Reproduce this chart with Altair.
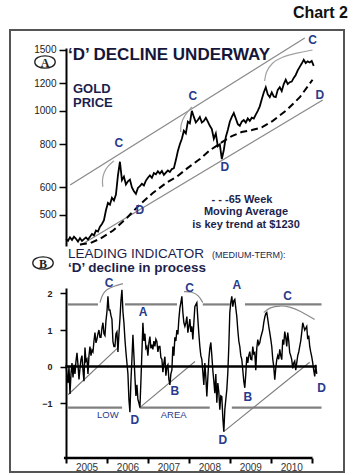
import altair as alt
import pandas as pd

FONT = "Liberation Sans"
SERIF = "Liberation Serif"
NAVY = "#283a8a"
INK = "#1c1f4d"

# ---------------- data ----------------
year_ticks = [2005, 2006, 2007, 2008, 2009, 2010, 2011]

# Gold price, one reading every 2/41 of a year from the start of 2005
gold_price = [425, 420, 430, 423, 432, 426, 418, 428, 420, 425, 430, 424, 432, 440, 436, 450, 447, 462, 470, 482,
              515, 541, 535, 560, 550, 572, 650, 712, 630, 645, 612, 625, 632, 600, 585, 575, 598, 605, 615, 608,
              628, 640, 650, 640, 660, 655, 668, 658, 670, 652, 662, 672, 665, 678, 682, 720, 765, 800, 830, 875,
              860, 930, 920, 1000, 960, 925, 940, 960, 925, 935, 955, 930, 905, 885, 830, 860, 790, 800, 725, 770,
              840, 880, 930, 960, 985, 950, 915, 905, 930, 940, 925, 950, 935, 955, 950, 975, 1000, 1030, 1080, 1130,
              1170, 1115, 1095, 1130, 1100, 1095, 1150, 1170, 1140, 1195, 1230, 1195, 1210, 1215, 1245, 1270, 1310, 1340, 1370, 1405,
              1375, 1390, 1380, 1395, 1350]
GOLD_STEP = 2 / 41

# 65-week moving average (dashed)
ma_year = [2005.34, 2005.59, 2005.83, 2006.15, 2006.49, 2006.80, 2007.12, 2007.46, 2007.71, 2007.95, 2008.27,
           2008.51, 2008.80, 2009.05, 2009.29, 2009.54, 2009.78, 2010.05, 2010.39, 2010.71, 2011.02]
ma_price = [410, 414, 426, 450, 490, 535, 578, 620, 645, 680, 725, 768, 810, 845, 868, 880, 895, 935, 1005, 1095, 1230]

# channel lines (upper C line and lower D line)
chan_name = ["upper", "upper", "lower", "lower"]
chan_year = [2005.10, 2010.83, 2005.35, 2011.27]
chan_price = [610, 1625, 408, 1075]

# thin arcs over the C tops in the gold panel
arc_top_id = [1, 1, 1, 1, 1, 2, 2, 2, 2, 3, 3, 3, 3, 3, 3]
arc_top_year = [2005.90, 2005.88, 2005.93, 2006.02, 2006.17,
                2007.80, 2007.80, 2007.90, 2008.07,
                2009.85, 2009.88, 2010.02, 2010.27, 2010.63, 2011.02]
arc_top_price = [602, 631, 665, 692, 716,
                 868, 916, 973, 1026,
                 1220, 1295, 1376, 1432, 1470, 1500]

top_lab_txt = ["C", "C", "C", "D", "D", "D"]
top_lab_year = [2006.29, 2008.10, 2011.02, 2011.20, 2008.88, 2006.80]
top_lab_price = [807, 1103, 1603, 1111, 688, 516]

# Leading indicator, 41 readings per year
ind_2005 = [0.05, -0.25, -0.45, 0.0, -0.75, -0.2, 0.1, -0.3, 0.05, -0.2, 0.15, 0.38, 0.05, -0.35, -0.05, 0.2, 0.3,
            -0.1, -0.4, 0.52, 0.15, 0.2, -0.2, 0.3, 0.55, 0.3, 0.45, 0.4, 0.7, 0.93, 0.65, 0.75, 0.9, 1.0, 0.8, 0.8,
            1.05, 1.2, 0.9, 0.85, 1.25]
ind_2006 = [1.5, 1.92, 1.55, 1.55, 1.4, 1.29, 0.68, 0.55, 0.55, 0.9, 0.95, 0.4, 0.9, 1.3, 1.8, 2.1, 1.5, 1.2, 0.75,
            0.4, 0.1, -0.2, -0.9, -1.25, -0.4, 0.2, 0.87, 0.3, -0.3, -0.8, -0.5, -0.9, -1.0, -1.12, -0.4, 0.4, 1.2,
            0.7, 0.9, 0.5, 0.55]
ind_2007 = [0.3, 0.65, 0.82, 0.5, 0.6, 0.47, 0.7, 0.55, 0.75, 0.68, 0.4, 0.55, 0.55, 0.25, 0.2, -0.15, 0.1, 0.27,
            -0.25, 0.0, 0.05, -0.35, -0.5, -0.2, -0.1, 0.55, 0.3, 0.8, 0.7, 1.0, 0.88, 1.3, 1.6, 1.75, 1.92, 1.48,
            1.2, 1.1, 1.2, 1.37, 0.93]
ind_2008 = [1.1, 1.3, 0.95, 1.1, 0.74, 1.2, 1.64, 1.7, 1.75, 1.3, 0.9, 0.55, 0.3, 0.2, -0.15, -0.5, 0.1, -0.3, -0.82,
            -0.3, 0.2, 0.5, 0.66, 0.3, -0.1, -0.4, -0.73, -0.2, -0.99, -0.45, -0.7, -1.18, -0.8, -0.82, -1.4, -1.78,
            -1.18, -0.9, -0.63, -0.17, 0.55]
ind_2009 = [1.48, 1.75, 1.92, 1.64, 1.8, 1.84, 1.6, 1.37, 1.0, 0.7, 0.55, 0.3, 0.2, -0.1, -0.4, -0.58, -0.2, 0.27,
            0.1, 0.3, 0.41, 0.2, 0.19, 0.55, 0.35, 0.38, -0.1, 0.5, 0.74, 0.6, 0.65, 0.8, 0.9, 1.0, 1.2, 1.35, 1.45,
            1.48, 1.3, 1.1, 0.93]
ind_2010 = [0.75, 0.55, 0.2, 0.0, -0.36, -0.05, 0.19, 0.3, 0.2, 0.47, 0.3, 0.19, 0.74, 0.6, 0.96, 0.8, 0.55, 0.93,
            0.7, 0.38, 0.3, 0.19, -0.05, 0.1, 0.15, -0.1, 0.1, 0.3, 0.4, 0.55, 0.7, 0.93, 1.2, 1.1, 1.0, 1.05, 1.1,
            0.75, 0.85, 0.55, 0.4]
ind_2011 = [0.27, 0.11, -0.1, -0.27, 0.05, -0.2]

hi_level = 1.70
hi_start = [2005.05, 2006.44, 2008.34, 2009.37]
hi_end = [2005.78, 2007.71, 2009.00, 2011.24]
lo_level = -1.12
lo_start = [2005.05, 2006.80, 2009.05]
lo_end = [2006.37, 2008.51, 2011.24]

diag_start_year = [2005.05, 2006.80, 2008.85]
diag_start_val = [-0.77, -1.12, -1.78]
diag_end_year = [2006.27, 2008.15, 2010.95]
diag_end_val = [0.52, 0.14, 0.12]

arc_bot_id = [1, 1, 1, 1, 1, 2, 2, 2, 2, 3, 3, 3, 3, 3, 3]
arc_bot_year = [2005.83, 2005.88, 2005.98, 2006.15, 2006.39,
                2007.88, 2008.07, 2008.24, 2008.34,
                2009.83, 2009.98, 2010.22, 2010.46, 2010.71, 2011.07]
arc_bot_val = [1.75, 1.95, 2.11, 2.19, 2.27,
               2.05, 2.05, 1.95, 1.75,
               1.48, 1.62, 1.67, 1.64, 1.53, 1.29]

bot_lab_txt = ["C", "A", "C", "A", "C", "B", "B", "D", "D", "D"]
bot_lab_year = [2006.05, 2006.88, 2008.02, 2009.17, 2010.41, 2007.66, 2009.44, 2006.68, 2008.83, 2011.24]
bot_lab_val = [2.30, 1.48, 2.16, 2.22, 1.92, -0.68, -0.82, -1.45, -2.0, -0.58]

word_txt = ["LOW", "AREA"]
word_year = [2006.02, 2007.63]
word_val = [-1.32, -1.32]

# ---------------- tables ----------------
gold_df = pd.DataFrame({"year": [2005 + k * GOLD_STEP for k in range(len(gold_price))], "price": gold_price})
ma_df = pd.DataFrame({"year": ma_year, "price": ma_price})
chan_df = pd.DataFrame({"name": chan_name, "year": chan_year, "price": chan_price})
arc_top_df = pd.DataFrame({"id": arc_top_id, "year": arc_top_year, "price": arc_top_price,
                           "i": list(range(len(arc_top_id)))})
top_lab_df = pd.DataFrame({"txt": top_lab_txt, "year": top_lab_year, "price": top_lab_price})

ind_rows = []
for yr, vals in zip(year_ticks, [ind_2005, ind_2006, ind_2007, ind_2008, ind_2009, ind_2010, ind_2011]):
    for k, v in enumerate(vals):
        ind_rows.append({"year": yr + k / 41, "val": v})
ind_df = pd.DataFrame(ind_rows)

hi_df = pd.DataFrame({"s": hi_start, "e": hi_end, "val": [hi_level] * len(hi_start)})
lo_df = pd.DataFrame({"s": lo_start, "e": lo_end, "val": [lo_level] * len(lo_start)})
diag_df = pd.DataFrame({"s": diag_start_year, "e": diag_end_year, "v1": diag_start_val, "v2": diag_end_val})
arc_bot_df = pd.DataFrame({"id": arc_bot_id, "year": arc_bot_year, "val": arc_bot_val,
                           "i": list(range(len(arc_bot_id)))})
bot_lab_df = pd.DataFrame({"txt": bot_lab_txt, "year": bot_lab_year, "val": bot_lab_val})
word_df = pd.DataFrame({"txt": word_txt, "year": word_year, "val": word_val})
zero_df = pd.DataFrame({"s": [2005.0], "e": [2011.12], "val": [0.0]})
base_df = pd.DataFrame({"s": [2004.95], "e": [2011.02], "val": [-2.5]})
one = pd.DataFrame({"a": [0]})

# ---------------- scales / axes ----------------
xscale = alt.Scale(domain=[2005, 2011.3], nice=False, zero=False)
xaxis = alt.Axis(values=year_ticks, format="d", labelExpr="datum.value >= 2011 ? '' : datum.label",
                 labelOffset=20.5, labelFlush=False, labelOverlap=False, labelBound=False,
                 tickSize=5, tickWidth=2, tickColor="black", domain=False, grid=False,
                 labelFont=FONT, labelFontSize=10, labelColor="#333333", labelPadding=-1, title=None)

top_scale = alt.Scale(type="log", domain=[406, 1520], range=[198, 0], nice=False)
top_axis = alt.Axis(values=[500, 600, 800, 1000, 1200, 1500], format="d", orient="left", grid=False, title=None,
                    tickSize=7, tickWidth=1.5, tickColor="black", domainColor="black", domainWidth=2,
                    labelFont=FONT, labelFontSize=10, labelColor="#222222", labelPadding=3)

bot_scale = alt.Scale(domain=[-2.5, 2.15], range=[410, 240], nice=False, zero=False)
bot_axis = alt.Axis(values=[-1, 0, 1, 2], orient="left", grid=False, title=None,
                    tickSize=6, tickWidth=1.5, tickColor="black", domainColor="black", domainWidth=2,
                    labelFont=FONT, labelFontSize=9, labelFontWeight="bold", labelColor="#222222", labelPadding=8)


def X(f):
    return alt.X(f, type="quantitative", scale=xscale, axis=xaxis)


def YT(f):
    return alt.Y(f, type="quantitative", scale=top_scale, axis=top_axis)


def YB(f):
    return alt.Y(f, type="quantitative", scale=bot_scale, axis=bot_axis)


# ---------------- gold panel ----------------
chan = alt.Chart(chan_df).mark_line(color="#8a8a8a", strokeWidth=1.3).encode(
    x=X("year"), y=YT("price"), detail="name:N")
arcs_top = alt.Chart(arc_top_df).mark_line(color="#a0a0a0", strokeWidth=1.2, interpolate="basis").encode(
    x=X("year"), y=YT("price"), detail="id:N", order="i:Q")
ma = alt.Chart(ma_df).mark_line(color="black", strokeWidth=2, strokeDash=[7, 4]).encode(
    x=X("year"), y=YT("price"))
gold = alt.Chart(gold_df).mark_line(color="black", strokeWidth=1.8).encode(
    x=X("year"), y=YT("price"))
top_labels = alt.Chart(top_lab_df).mark_text(font=FONT, fontSize=12, fontWeight="bold", color=NAVY).encode(
    x=X("year"), y=YT("price"), text="txt:N")
top = alt.layer(chan, arcs_top, ma, gold, top_labels)

# ---------------- indicator panel ----------------
hi = alt.Chart(hi_df).mark_rule(color="#808080", strokeWidth=2.2).encode(x=X("s"), x2="e", y=YB("val"))
lo = alt.Chart(lo_df).mark_rule(color="#808080", strokeWidth=2.2).encode(x=X("s"), x2="e", y=YB("val"))
diag = alt.Chart(diag_df).mark_rule(color="#7a7a7a", strokeWidth=1.1).encode(
    x=X("s"), x2="e", y=YB("v1"), y2="v2")
arcs_bot = alt.Chart(arc_bot_df).mark_line(color="#8a8a8a", strokeWidth=1.2, interpolate="basis").encode(
    x=X("year"), y=YB("val"), detail="id:N", order="i:Q")
zero = alt.Chart(zero_df).mark_rule(color="black", strokeWidth=2.5).encode(x=X("s"), x2="e", y=YB("val"))
base = alt.Chart(base_df).mark_rule(color="black", strokeWidth=2.5).encode(x=X("s"), x2="e", y=YB("val"))
ind = alt.Chart(ind_df).mark_line(color="black", strokeWidth=1.4).encode(x=X("year"), y=YB("val"))
bot_labels = alt.Chart(bot_lab_df).mark_text(font=FONT, fontSize=12, fontWeight="bold", color=NAVY).encode(
    x=X("year"), y=YB("val"), text="txt:N")
words = alt.Chart(word_df).mark_text(font=FONT, fontSize=9.5, color=NAVY).encode(
    x=X("year"), y=YB("val"), text="txt:N")
bottom = alt.layer(hi, lo, diag, arcs_bot, zero, base, ind, bot_labels, words)


# ---------------- decorations ----------------
def label(txt, x, y, size, weight="normal", color=INK, align="left", font=FONT, baseline="alphabetic"):
    return alt.Chart(one).mark_text(text=txt, font=font, fontSize=size, fontWeight=weight, color=color,
                                    align=align, baseline=baseline).encode(x=alt.value(x), y=alt.value(y))


ELLIPSE = "M-1,0C-1,-0.8,1,-0.8,1,0C1,0.8,-1,0.8,-1,0Z"


def ellipse(x, y):
    return alt.Chart(one).mark_point(shape=ELLIPSE, size=420, filled=False, color="#222222",
                                     strokeWidth=1.3, opacity=1).encode(x=alt.value(x), y=alt.value(y))


border = alt.Chart(one).mark_rect(fillOpacity=0, stroke="#555555", strokeWidth=2).encode(
    x=alt.value(-56), x2=alt.value(278), y=alt.value(-18), y2=alt.value(424))

deco = [
    border,
    label("Chart 2", 282, -30, 16, "bold", "#111111", "right"),
    label("\u2018D\u2019 DECLINE UNDERWAY", 2, 12, 17, "bold", "#15163a"),
    label("GOLD", 7, 45, 13, "bold"),
    label("PRICE", 7, 59, 13, "bold"),
    ellipse(-21, 14),
    label("A", -21, 15, 12, "bold", "#222222", "center", SERIF, "middle"),
    label("- - -65 Week", 176, 154.5, 11, "bold", INK, "center"),
    label("Moving Average", 180, 167, 11, "bold", INK, "center"),
    label("is key trend at $1230", 180, 179.5, 11, "bold", INK, "center"),
    label("LEADING INDICATOR", 2, 210, 13.5, "normal"),
    label("(MEDIUM-TERM):", 146, 210, 9, "normal"),
    label("\u2018D\u2019 decline in process", 2, 224, 13.5, "bold"),
    ellipse(-23, 215),
    label("B", -23, 216, 12, "bold", "#222222", "center", SERIF, "middle"),
]

chart = alt.layer(top, bottom, *deco).resolve_scale(y="independent").properties(
    width=258, height=410,
    autosize=alt.AutoSizeParams(type="none"),
    padding={"left": 66, "top": 48, "right": 29, "bottom": 17},
    background="white",
).configure_view(stroke=None)

chart.save("out.html", embed_options={"renderer": "svg", "actions": False})
